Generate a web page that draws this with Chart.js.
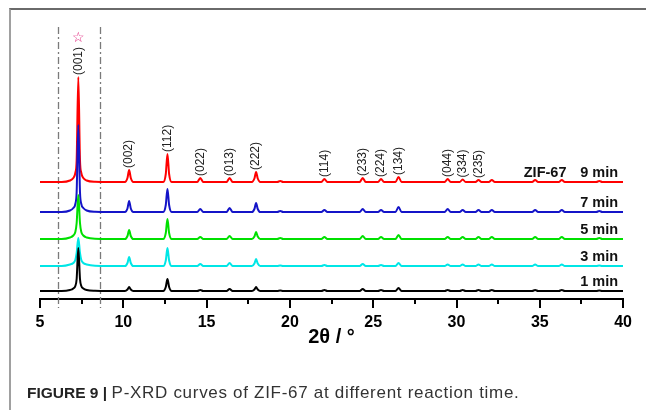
<!DOCTYPE html>
<html>
<head>
<meta charset="utf-8">
<script src="https://cdn.jsdelivr.net/npm/chart.js@4.4.1/dist/chart.umd.min.js"></script>
<style>
  html, body { margin: 0; padding: 0; background: #fff; }
  body { width: 646px; height: 410px; position: relative; overflow: hidden; font-family: "Liberation Sans", Arial, sans-serif; }
  #chart { position: absolute; left: 0; top: 0; }
  #frame { position: absolute; left: 9px; top: 8px; width: 640px; height: 410px; border-left: 2px solid #a0a0a0; border-top: 2px solid #6a6a6a; }
  #caption { position: absolute; left: 27px; top: 383px; color: #222; white-space: nowrap; line-height: 20px; }
  #caption b { font-size: 15.5px; }
  #caption span { font-size: 17px; letter-spacing: 0.7px; color: #333; }
</style>
</head>
<body>
<canvas id="chart" width="646" height="410"></canvas>
<div id="frame"></div>
<div id="caption"><b>FIGURE 9 |</b> <span>P-XRD curves of ZIF-67 at different reaction time.</span></div>
<script>
// 2θ positions (deg) where the curves were read
const twoTheta = [
  5.0, 6.3, 6.8, 7.0, 7.12, 7.2, 7.3, 7.4, 7.48, 7.6, 7.8, 8.3,
  10.1, 10.25, 10.35, 10.45, 10.6,
  12.4, 12.55, 12.65, 12.75, 12.9,
  14.44, 14.62, 14.8,
  16.2, 16.38, 16.56,
  17.72, 17.87, 17.97, 18.07, 18.22,
  19.24, 19.42, 19.6,
  21.89, 22.07, 22.25,
  24.19, 24.37, 24.55,
  25.29, 25.47, 25.65,
  26.34, 26.52, 26.7,
  29.29, 29.47, 29.65,
  30.19, 30.37, 30.55,
  31.14, 31.32, 31.5,
  31.94, 32.12, 32.3,
  34.54, 34.72, 34.9,
  36.14, 36.32, 36.5,
  38.39, 38.57, 38.75,
  40.0
];

// intensity above each curve's baseline (a.u.)
const int9 = [
  0, 0, 1.5, 4, 9, 22, 105, 22, 9, 4, 1.5, 0.3,
  0, 4, 12, 4, 0,
  0, 8, 28, 8, 0,
  0, 4, 0,
  0, 4, 0,
  0, 3.5, 10, 3.5, 0,
  0, 1, 0,
  0, 3, 0,
  0, 4, 0,
  0, 3, 0,
  0, 5, 0,
  0, 3, 0,
  0, 2.5, 0,
  0, 2, 0,
  0, 2, 0,
  0, 2, 0,
  0, 2, 0,
  0, 1, 0,
  0
];
const int7 = [
  0, 0, 1.5, 4, 8, 20, 87, 20, 8, 4, 1.5, 0.3,
  0, 3.5, 11, 3.5, 0,
  0, 7, 23, 7, 0,
  0, 3, 0,
  0, 4, 0,
  0, 3, 9, 3, 0,
  0, 1, 0,
  0, 2, 0,
  0, 3, 0,
  0, 2, 0,
  0, 5, 0,
  0, 3, 0,
  0, 2, 0,
  0, 2, 0,
  0, 2, 0,
  0, 2, 0,
  0, 2, 0,
  0, 1, 0,
  0
];
const int5 = [
  0, 0, 1.5, 3.5, 7, 16, 44, 16, 7, 3.5, 1.5, 0.3,
  0, 3, 9, 3, 0,
  0, 6, 20, 6, 0,
  0, 2, 0,
  0, 3, 0,
  0, 2.5, 7, 2.5, 0,
  0, 1, 0,
  0, 2, 0,
  0, 3, 0,
  0, 2, 0,
  0, 4, 0,
  0, 2, 0,
  0, 2, 0,
  0, 2, 0,
  0, 2, 0,
  0, 2, 0,
  0, 2, 0,
  0, 1, 0,
  0
];
const int3 = [
  0, 0, 1.5, 3, 6, 13, 28, 13, 6, 3, 1.5, 0.3,
  0, 3, 9, 3, 0,
  0, 5.5, 18, 5.5, 0,
  0, 2, 0,
  0, 3, 0,
  0, 2.5, 7, 2.5, 0,
  0, 0.5, 0,
  0, 1, 0,
  0, 2, 0,
  0, 1, 0,
  0, 3, 0,
  0, 1.5, 0,
  0, 1.5, 0,
  0, 1.5, 0,
  0, 1.5, 0,
  0, 1.5, 0,
  0, 1.5, 0,
  0, 0.5, 0,
  0
];
const int1 = [
  0, 0, 1, 2.5, 5, 12, 43, 12, 5, 2.5, 1, 0.3,
  0, 1.5, 4, 1.5, 0,
  0, 4, 12, 4, 0,
  0, 1, 0,
  0, 2, 0,
  0, 1.5, 4, 1.5, 0,
  0, 0.5, 0,
  0, 1, 0,
  0, 2, 0,
  0, 1, 0,
  0, 3, 0,
  0, 1, 0,
  0, 1, 0,
  0, 1, 0,
  0, 1, 0,
  0, 1, 0,
  0, 1, 0,
  0, 0.5, 0,
  0
];

const seriesNames = ["9 min", "7 min", "5 min", "3 min", "1 min"];
const seriesOffsets = [117, 87, 60, 33, 8];
const seriesColors = ["#ff0000", "#1414c8", "#00e000", "#00e6e6", "#000000"];

const hklLabels = ["(001)", "(002)", "(112)", "(022)", "(013)", "(222)", "(114)", "(233)", "(224)", "(134)", "(044)", "(334)", "(235)"];
const hklPos = [7.3, 10.35, 12.65, 14.62, 16.38, 17.97, 22.07, 24.37, 25.47, 26.52, 29.47, 30.37, 31.32];

const minorTicks = [7.5, 12.5, 17.5, 22.5, 27.5, 32.5, 37.5];
const majorTicks = [5, 10, 15, 20, 25, 30, 35, 40];
const dashLines = [6.1, 8.6];

const curves = [int9, int7, int5, int3, int1];

const datasets = curves.map((vals, i) => ({
  label: seriesNames[i],
  data: twoTheta.map((t, j) => ({ x: t, y: seriesOffsets[i] + vals[j] })),
  borderColor: seriesColors[i],
  borderWidth: 2,
  pointRadius: 0,
  fill: false,
  cubicInterpolationMode: "monotone",
  order: 5 - i
}));

const xrdDecor = {
  id: "xrdDecor",
  beforeDatasetsDraw(chart) {
    const { ctx, chartArea, scales: { x } } = chart;
    ctx.save();
    ctx.strokeStyle = "#7a7a7a";
    ctx.lineWidth = 1.3;
    ctx.setLineDash([7, 3, 2, 3]);
    dashLines.forEach((v) => {
      const px = Math.round(x.getPixelForValue(v)) + 0.5;
      ctx.beginPath();
      ctx.moveTo(px, chartArea.top);
      ctx.lineTo(px, chartArea.bottom + 9);
      ctx.stroke();
    });
    ctx.restore();
  },
  afterDraw(chart) {
    const { ctx, chartArea, scales: { x, y } } = chart;
    ctx.save();

    // tick marks
    ctx.strokeStyle = "#000";
    ctx.lineWidth = 2;
    majorTicks.forEach((v) => {
      const px = Math.round(x.getPixelForValue(v));
      ctx.beginPath();
      ctx.moveTo(px, chartArea.bottom);
      ctx.lineTo(px, chartArea.bottom + 9);
      ctx.stroke();
    });
    minorTicks.forEach((v) => {
      const px = Math.round(x.getPixelForValue(v));
      ctx.beginPath();
      ctx.moveTo(px, chartArea.bottom);
      ctx.lineTo(px, chartArea.bottom + 5);
      ctx.stroke();
    });

    // hkl labels above the 9 min peaks
    ctx.font = "12px 'Liberation Sans', Arial, sans-serif";
    ctx.fillStyle = "#222";
    ctx.textAlign = "left";
    ctx.textBaseline = "middle";
    let starY = 0;
    hklLabels.forEach((lab, k) => {
      const idx = twoTheta.indexOf(hklPos[k]);
      const top = y.getPixelForValue(seriesOffsets[0] + int9[idx]);
      const px = x.getPixelForValue(hklPos[k]);
      ctx.save();
      ctx.translate(px, top - 2);
      ctx.rotate(-Math.PI / 2);
      ctx.fillText(lab, 0, 0);
      ctx.restore();
      if (k === 0) starY = top - 2 - ctx.measureText(lab).width - 9;
    });

    // star marker over (001)
    ctx.font = "bold 14px 'DejaVu Sans', sans-serif";
    ctx.fillStyle = "#e0207a";
    ctx.textAlign = "center";
    ctx.fillText("\u2606", x.getPixelForValue(hklPos[0]), starY);

    // curve labels
    ctx.font = "bold 14.5px 'Liberation Sans', Arial, sans-serif";
    ctx.fillStyle = "#111";
    ctx.textAlign = "right";
    seriesNames.forEach((name, i) => {
      ctx.fillText(name, chartArea.right - 5, y.getPixelForValue(seriesOffsets[i]) - 9);
    });
    ctx.fillText("ZIF-67", x.getPixelForValue(36.6), y.getPixelForValue(seriesOffsets[0]) - 9);

    // axis title
    ctx.font = "bold 20px 'Liberation Sans', Arial, sans-serif";
    ctx.textAlign = "center";
    ctx.fillStyle = "#000";
    ctx.fillText("2\u03b8 / \u00b0", (x.left + x.right) / 2, chartArea.bottom + 38);

    ctx.restore();
  }
};

Chart.defaults.font.family = "'Liberation Sans', Arial, sans-serif";

new Chart(document.getElementById("chart"), {
  type: "line",
  data: { datasets },
  options: {
    responsive: false,
    animation: false,
    devicePixelRatio: 1,
    layout: { padding: { left: 40, right: 22, top: 27, bottom: 0 } },
    plugins: { legend: { display: false }, tooltip: { enabled: false } },
    scales: {
      x: {
        type: "linear",
        min: 5,
        max: 40,
        afterFit: (scale) => { scale.height = 111; },
        ticks: {
          stepSize: 5,
          padding: 14,
          color: "#000",
          font: { size: 16, weight: "bold" }
        },
        grid: { display: true, drawOnChartArea: false, drawTicks: false },
        border: { display: true, color: "#000", width: 2 }
      },
      y: {
        display: false,
        min: 0,
        max: 272
      }
    }
  },
  plugins: [xrdDecor]
});
</script>
</body>
</html>
